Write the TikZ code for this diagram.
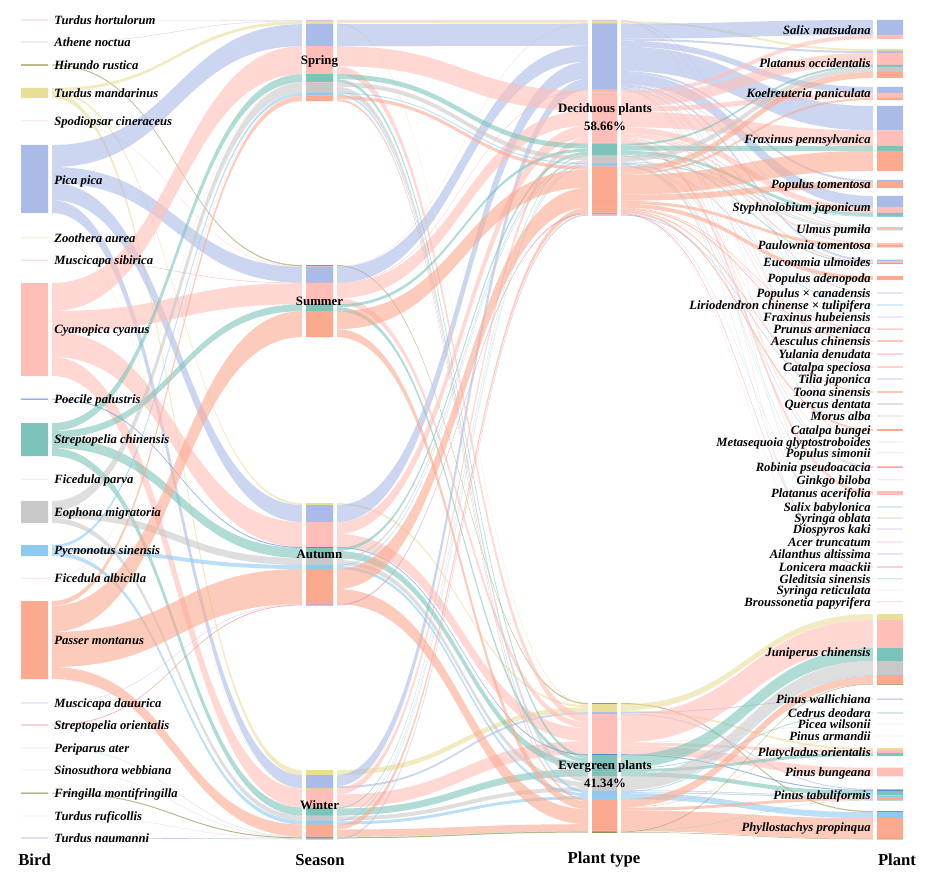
\documentclass[tikz,border=0pt]{standalone}
\usepackage{fontspec}
\setmainfont{Liberation Serif}

\pgfdeclarelayer{flows}
\pgfsetlayers{flows,main}

\definecolor{cHort}{RGB}{240,190,205}
\definecolor{cAth}{RGB}{195,195,240}
\definecolor{cOlive}{RGB}{160,148,78}
\definecolor{cYel}{RGB}{233,222,152}
\definecolor{cSpod}{RGB}{252,196,210}
\definecolor{cBlue}{RGB}{170,187,232}
\definecolor{cZoo}{RGB}{212,218,150}
\definecolor{cMsib}{RGB}{248,160,160}
\definecolor{cPink}{RGB}{255,190,184}
\definecolor{cPoec}{RGB}{90,138,208}
\definecolor{cTeal}{RGB}{124,196,185}
\definecolor{cFpar}{RGB}{252,200,200}
\definecolor{cGray}{RGB}{200,200,200}
\definecolor{cLtb}{RGB}{142,202,240}
\definecolor{cFalb}{RGB}{252,190,200}
\definecolor{cSalm}{RGB}{251,169,143}
\definecolor{cMdau}{RGB}{196,196,244}
\definecolor{cSori}{RGB}{238,128,128}
\definecolor{cPeri}{RGB}{150,210,188}
\definecolor{cSino}{RGB}{248,188,204}
\definecolor{cFmon}{RGB}{128,138,68}
\definecolor{cTruf}{RGB}{250,188,198}
\definecolor{cTnau}{RGB}{150,170,220}

\newcommand\setstack[4]{%
  \expandafter\xdef\csname bl@#1\endcsname{#2}%
  \expandafter\xdef\csname br@#1\endcsname{#3}%
  \expandafter\xdef\csname in@#1\endcsname{#4}%
  \expandafter\xdef\csname out@#1\endcsname{#4}}

\newcommand\flow[4]{%
  \edef\fya{\csname out@#1\endcsname}%
  \edef\fyb{\csname in@#2\endcsname}%
  \edef\fsa{\csname bl@#1\endcsname}\edef\fsb{\csname br@#1\endcsname}%
  \edef\fta{\csname bl@#2\endcsname}\edef\ftb{\csname br@#2\endcsname}%
  \pgfmathsetmacro\fxa{\fsb+4}%
  \pgfmathsetmacro\fxb{\fta-4}%
  \pgfmathsetmacro\fxm{(\fxa+\fxb)/2}%
  \pgfmathsetmacro\fyaw{\fya+#3}%
  \pgfmathsetmacro\fybw{\fyb+#3}%
  \fill[fill=#4,fill opacity=.6] (\fxa,\fya) .. controls (\fxm,\fya) and (\fxm,\fyb) .. (\fxb,\fyb)
    -- (\fxb,\fybw) .. controls (\fxm,\fybw) and (\fxm,\fyaw) .. (\fxa,\fyaw) -- cycle;
  \fill[fill=#4] (\fsa,\fya) rectangle (\fsb,\fyaw) (\fta,\fyb) rectangle (\ftb,\fybw);
  \expandafter\xdef\csname out@#1\endcsname{\fyaw}%
  \expandafter\xdef\csname in@#2\endcsname{\fybw}}

\begin{document}
\begin{tikzpicture}[x=0.02cm,y=-0.02cm,
  bird/.style={anchor=mid west,inner sep=0pt,font=\fontsize{7.2}{8}\selectfont\bfseries\itshape},
  plant/.style={anchor=mid east,inner sep=0pt,font=\fontsize{7.2}{8}\selectfont\bfseries\itshape},
  season/.style={inner sep=0pt,font=\fontsize{7.3}{8}\selectfont\bfseries},
  ptype/.style={align=center,inner sep=0pt,font=\fontsize{7.3}{10}\selectfont\bfseries},
  axis/.style={inner sep=0pt,font=\fontsize{9.5}{11}\selectfont\bfseries}]

\useasboundingbox (0,0) rectangle (926,885);

\foreach \n/\t/\y/\l in {thort/Turdus hortulorum/19.7/20, athene/Athene noctua/41.7/42,
  hirundo/Hirundo rustica/64.4/65, tmand/Turdus mandarinus/88/93, spod/Spodiopsar cineraceus/120.75/121,
  pica/Pica pica/145/180, zoo/Zoothera aurea/237.75/238, msib/Muscicapa sibirica/259.75/260,
  cyan/Cyanopica cyanus/283/329, poec/Poecile palustris/398.5/399, strep/Streptopelia chinensis/423/439,
  fpar/Ficedula parva/478.75/479, eoph/Eophona migratoria/501/512, pycno/Pycnonotus sinensis/545/550,
  falb/Ficedula albicilla/577.75/578, passer/Passer montanus/601/640, mdau/Muscicapa dauurica/702.7/703,
  sori/Streptopelia orientalis/724.6/725, peri/Periparus ater/747.8/748, sino/Sinosuthora webbiana/769.8/770,
  fmon/Fringilla montifringilla/792.5/793, truf/Turdus ruficollis/815.8/816, tnau/Turdus naumanni/837.7/838}
  {\node[bird] (\n) at (54,\l) {\t}; \setstack{\n}{21}{48}{\y}}

\foreach \n/\t/\y/\l in {spring/Spring/20/61, summer/Summer/265/301, autumn/Autumn/503/554, winter/Winter/770/805}
  {\node[season] (\n) at (319.5,\l) {\t}; \setstack{\n}{306}{333}{\y}}

\node[ptype] (decid) at (605,117) {Deciduous plants\\58.66\%};
\setstack{decid}{592}{617}{20}
\node[ptype] (ever) at (605,774) {Evergreen plants\\41.34\%};
\setstack{ever}{592}{617}{703}

\foreach \n/\t/\y/\l in {salix/Salix matsudana/20/30, platocc/Platanus occidentalis/49/63,
  koel/Koelreuteria paniculata/87/93, fraxp/Fraxinus pennsylvanica/106/139, poptom/Populus tomentosa/180/184,
  styph/Styphnolobium japonicum/196/207, ulmus/Ulmus pumila/227.5/229, paulow/Paulownia tomentosa/243/245,
  eucom/Eucommia ulmoides/259.5/262, popade/Populus adenopoda/276/278, popcan/Populus × canadensis/292.6/293,
  lirio/Liriodendron chinense × tulipifera/304.6/305, fraxh/Fraxinus hubeiensis/316.7/317,
  prunus/Prunus armeniaca/328.5/329, aescul/Aesculus chinensis/340.4/341, yulan/Yulania denudata/353.5/354,
  catsp/Catalpa speciosa/366.2/367, tilia/Tilia japonica/378.6/379, toona/Toona sinensis/391.4/392,
  querc/Quercus dentata/403.7/404, morus/Morus alba/415.7/416, catbu/Catalpa bungei/429/430,
  metaseq/Metasequoia glyptostroboides/441.8/442, popsim/Populus simonii/452.7/453,
  robinia/Robinia pseudoacacia/466.1/467, ginkgo/Ginkgo biloba/479.7/480, platacer/Platanus acerifolia/491/493,
  salbab/Salix babylonica/506.7/507, syrob/Syringa oblata/517.5/518, diosp/Diospyros kaki/528.7/529,
  acer/Acer truncatum/541.7/542, ailan/Ailanthus altissima/553.6/554, lonic/Lonicera maackii/566.6/567,
  gledit/Gleditsia sinensis/578.7/579, syret/Syringa reticulata/589.8/590.5, brouss/Broussonetia papyrifera/601.7/602,
  junip/Juniperus chinensis/614/652, pinwal/Pinus wallichiana/698.5/699, cedrus/Cedrus deodara/712.6/713,
  picea/Picea wilsonii/723.8/724, pinarm/Pinus armandii/735.8/736, platyc/Platycladus orientalis/748/752,
  pinbun/Pinus bungeana/767.7/772, pintab/Pinus tabuliformis/789/795, phyllo/Phyllostachys propinqua/811/827}
  {\node[plant] (\n) at (871,\l) {\t}; \setstack{\n}{877}{903}{\y}}

\node[axis,anchor=west] (tbird) at (18,860) {Bird};
\node[axis] (tseason) at (320,860) {Season};
\node[axis] (ttype) at (604,860) {Plant type};
\node[axis] (tplant) at (897,860) {Plant};

\begin{pgfonlayer}{flows}
% bird -> season
\foreach \s/\t/\w/\c in {thort/spring/0.6/cHort, athene/spring/0.6/cAth, hirundo/summer/1.2/cOlive,
  tmand/spring/3/cYel, tmand/autumn/2/cYel, tmand/winter/5/cYel, spod/summer/0.5/cSpod,
  pica/spring/22/cBlue, pica/summer/16/cBlue, pica/autumn/17/cBlue, pica/winter/13/cBlue,
  zoo/winter/0.5/cZoo, msib/summer/0.5/cMsib,
  cyan/spring/28/cPink, cyan/summer/21/cPink, cyan/autumn/25/cPink, cyan/winter/19/cPink,
  poec/autumn/1/cPoec,
  strep/spring/8/cTeal, strep/summer/7/cTeal, strep/autumn/10/cTeal, strep/winter/8/cTeal,
  fpar/spring/0.5/cFpar,
  eoph/spring/10/cGray, eoph/autumn/7/cGray, eoph/winter/5/cGray,
  pycno/spring/3/cLtb, pycno/autumn/4/cLtb, pycno/winter/4/cLtb,
  falb/spring/0.5/cFalb,
  passer/spring/5/cSalm, passer/summer/26/cSalm, passer/autumn/35/cSalm, passer/winter/12/cSalm,
  mdau/autumn/0.6/cMdau, sori/autumn/0.8/cSori, peri/winter/0.4/cPeri, sino/winter/0.4/cSino,
  fmon/winter/1/cFmon, truf/winter/0.4/cTruf, tnau/winter/0.6/cTnau}
  {\flow{\s}{\t}{\w}{\c}}
% season -> plant type
\foreach \s/\t/\w/\c in {spring/decid/0.6/cHort, spring/decid/0.6/cAth, summer/ever/1.2/cOlive,
  spring/decid/2/cYel, spring/ever/1/cYel, autumn/ever/2/cYel, winter/ever/5/cYel,
  summer/decid/0.5/cSpod,
  spring/decid/22/cBlue, summer/decid/16/cBlue, autumn/decid/17/cBlue, winter/decid/11/cBlue, winter/ever/2/cBlue,
  winter/decid/0.5/cZoo, summer/decid/0.5/cMsib,
  spring/decid/20/cPink, spring/ever/8/cPink, summer/decid/15/cPink, summer/ever/6/cPink,
  autumn/decid/12/cPink, autumn/ever/13/cPink, winter/decid/6/cPink, winter/ever/13/cPink,
  autumn/ever/1/cPoec,
  spring/decid/5/cTeal, spring/ever/3/cTeal, summer/decid/3/cTeal, summer/ever/4/cTeal,
  autumn/decid/3/cTeal, autumn/ever/7/cTeal, winter/decid/1/cTeal, winter/ever/7/cTeal,
  spring/decid/0.5/cFpar,
  spring/decid/4/cGray, spring/ever/6/cGray, autumn/decid/2/cGray, autumn/ever/5/cGray,
  winter/decid/1/cGray, winter/ever/4/cGray,
  spring/decid/1/cLtb, spring/ever/2/cLtb, autumn/decid/1/cLtb, autumn/ever/3/cLtb,
  winter/decid/1/cLtb, winter/ever/3/cLtb,
  spring/decid/0.5/cFalb,
  spring/decid/3/cSalm, spring/ever/2/cSalm, summer/decid/18/cSalm, summer/ever/8/cSalm,
  autumn/decid/20/cSalm, autumn/ever/15/cSalm, winter/decid/5/cSalm, winter/ever/7/cSalm,
  autumn/decid/0.6/cMdau, autumn/decid/0.8/cSori, winter/ever/0.4/cPeri, winter/decid/0.4/cSino,
  winter/ever/1/cFmon, winter/decid/0.4/cTruf, winter/decid/0.6/cTnau}
  {\flow{\s}{\t}{\w}{\c}}
% plant type -> plant
\foreach \s/\t/\w/\c in {decid/acer/0.6/cHort, decid/fraxh/0.6/cAth, ever/phyllo/1.2/cOlive,
  decid/platocc/2/cYel, ever/junip/6/cYel, ever/platyc/2/cYel,
  decid/catsp/0.5/cSpod,
  decid/salix/15/cBlue, decid/platocc/2/cBlue, decid/koel/6/cBlue, decid/fraxp/24.4/cBlue,
  decid/poptom/2/cBlue, decid/styph/11/cBlue, decid/ulmus/0.5/cBlue, decid/eucom/2/cBlue,
  decid/popcan/0.8/cBlue, decid/yulan/0.5/cBlue, decid/tilia/0.7/cBlue, decid/metaseq/0.4/cBlue,
  decid/ailan/0.7/cBlue, ever/pinwal/1/cBlue, ever/pintab/1/cBlue,
  decid/syrob/0.5/cZoo, decid/brouss/0.5/cMsib,
  decid/salix/4/cPink, decid/platocc/12/cPink, decid/koel/5/cPink, decid/fraxp/15.5/cPink,
  decid/styph/6/cPink, decid/ulmus/1/cPink, decid/paulow/1.5/cPink, decid/eucom/1.5/cPink,
  decid/yulan/0.5/cPink, decid/catsp/1/cPink, decid/robinia/1/cPink, decid/platacer/4/cPink,
  ever/junip/28/cPink, ever/picea/0.4/cPink, ever/platyc/3/cPink, ever/pinbun/8.6/cPink,
  ever/pintab/1/cPoec,
  decid/platocc/2/cTeal, decid/fraxp/5/cTeal, decid/styph/3/cTeal, decid/ulmus/0.5/cTeal,
  decid/eucom/1/cTeal, decid/gledit/0.5/cTeal,
  ever/junip/13/cTeal, ever/cedrus/0.8/cTeal, ever/platyc/3/cTeal, ever/pintab/4.2/cTeal,
  decid/popsim/0.5/cFpar,
  decid/platocc/5/cGray, decid/ulmus/1/cGray, decid/morus/0.6/cGray, decid/syrob/0.4/cGray,
  ever/junip/14/cGray, ever/pintab/1/cGray,
  decid/styph/0.8/cLtb, decid/lirio/0.8/cLtb, decid/robinia/0.8/cLtb, decid/salbab/0.6/cLtb,
  ever/junip/1/cLtb, ever/pintab/1/cLtb, ever/phyllo/6/cLtb,
  decid/ginkgo/0.5/cFalb,
  decid/platocc/6/cSalm, decid/koel/2/cSalm, decid/fraxp/20/cSalm, decid/poptom/6/cSalm,
  decid/paulow/3/cSalm, decid/popade/4/cSalm, decid/prunus/0.7/cSalm, decid/aescul/1.2/cSalm,
  decid/toona/1.2/cSalm, decid/catbu/1.9/cSalm,
  ever/junip/8/cSalm, ever/pinarm/0.4/cSalm, ever/pintab/3/cSalm, ever/phyllo/20.6/cSalm,
  decid/diosp/0.6/cMdau, decid/lonic/0.8/cSori, ever/pintab/0.4/cPeri, decid/syret/0.4/cSino,
  ever/junip/0.5/cFmon, ever/phyllo/0.5/cFmon, decid/prunus/0.4/cTruf, decid/querc/0.6/cTnau}
  {\flow{\s}{\t}{\w}{\c}}
\end{pgfonlayer}

\end{tikzpicture}
\end{document}
